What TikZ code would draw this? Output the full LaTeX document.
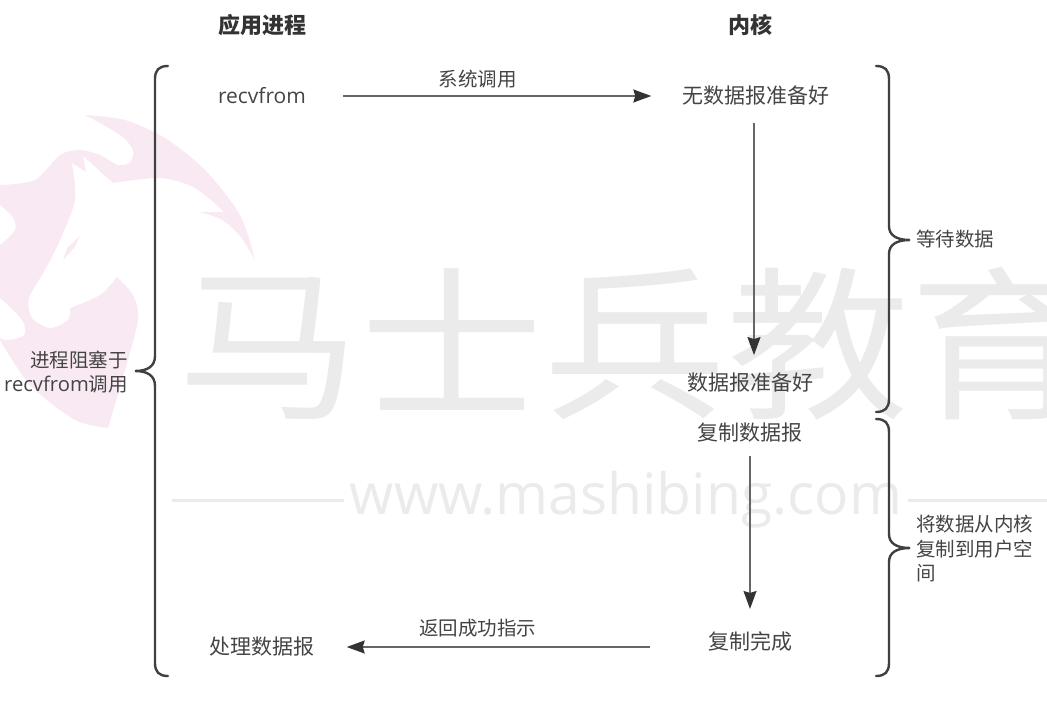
\documentclass[tikz,border=0pt]{standalone}
\usepackage{fontspec}
\usepackage{tikz}
\usetikzlibrary{positioning,arrows.meta}
\setmainfont{Noto Sans CJK SC}
\newfontfamily\latinfont{Open Sans}
\definecolor{markgray}{HTML}{EBEBEB}
\definecolor{markpink}{HTML}{F9E9F3}
\definecolor{inkgray}{HTML}{444444}
\tikzset{
  bigtext/.style={text=inkgray,inner sep=0pt,font=\fontsize{21}{25}\selectfont},
  smalltext/.style={text=inkgray,inner sep=0pt,align=left,font=\fontsize{19.5}{24.5}\selectfont},
  headtext/.style={text=black!80,inner sep=0pt,font=\fontsize{22}{26}\selectfont\bfseries},
  marktext/.style={text=markgray,inner sep=0pt,anchor=base,yscale=.9,transform shape,font=\fontsize{183}{183}\selectfont},
  flow/.style={draw=black!60,line width=1.6pt,-{Stealth[length=18pt,width=13pt,inset=2pt,color=black!80]}},
  curly/.style={draw=black!75,line width=2.4pt,line cap=round}
}
\begin{document}
\begin{tikzpicture}[x=1pt,y=-1pt]
            \useasboundingbox (0,0) rectangle (1047,701);
            \begin{scope}
            \clip (0,0) rectangle (1047,701);
            % logo
            \fill[markpink] plot[smooth] coordinates {(85,115) (125,120) (165,138) (205,170) (240,215) (255,260)}
                -- plot[smooth] coordinates {(255,260) (240,236) (222,220) (200,212)}
                -- (224,212)
                -- plot[smooth] coordinates {(224,212) (195,188) (160,178) (113,183)}
                -- (83,156) -- (86,172) -- (72,163)
                -- plot[smooth] coordinates {(72,163) (75,200) (60,240) (45,270) (29,298) (32,318) (50,328) (68,320) (70,308)}
                -- plot[smooth] coordinates {(70,308) (100,295) (117,277)}
                -- plot[smooth] coordinates {(117,277) (133,295) (138,320) (125,370) (108,428)}
                -- plot[smooth] coordinates {(108,428) (75,420) (30,385) (0,340)}
                -- (0,185)
                -- plot[smooth] coordinates {(0,185) (35,180) (60,155) (80,150) (100,155) (118,165) (130,162) (133,150) (120,135) (85,115)}
                -- cycle;
            \fill[white] plot[smooth] coordinates {(0,205) (13,218) (15,230) (0,245)} -- cycle;
            \fill[white] plot[smooth] coordinates {(0,298) (22,320) (24,335) (8,340) (0,338)} -- cycle;
            \fill[markpink] (80,236) -- (75,247) -- (63,260) -- (67,248) -- cycle;
            % watermark
            \foreach \name/\glyph/\px in {ma/马/269,shi/士/452,bing/兵/635,jiao/教/818,yu/育/1001}
                \node[marktext](\name) at (\px,406){\glyph};
            \node[text=markgray,inner sep=0pt,font=\fontsize{57}{57}\latinfont\selectfont](markurl) at (626,500){www.mashibing.com};
            \draw[markgray,line width=3pt] (markurl.west) ++(-6,0) -- ++(-172,0);
            \draw[markgray,line width=3pt] (markurl.east) ++(6,0) -- ++(172,0);
            \end{scope}
            % columns
            \node[headtext](app) at (262,25){应用进程};
            \node[headtext](kernel) at (750,25){内核};
            \node[bigtext](recv) at (262,96){\latinfont recvfrom};
            \node[bigtext](nodata) at (756,96){无数据报准备好};
            \node[bigtext](ready) at (750,383){数据报准备好};
            \node[bigtext](copying) at (750,433){复制数据报};
            \node[bigtext](done) at (750,641){复制完成};
            \node[bigtext](handle) at (262,647){处理数据报};
            % labels on the right and left
            \node[smalltext,anchor=west](waitdata) at (916,239){等待数据};
            \node[smalltext,anchor=west](copydata) at (916,549){将数据从内核\\复制到用户空\\间};
            \node[smalltext,anchor=east,align=right](blocked) at (128,372){进程阻塞于\\{\latinfont\fontsize{20.2}{24.5}\selectfont recvfrom}调用};
            % arrows
            \draw[flow,shorten <=37pt,shorten >=31pt] (recv) -- node[smalltext,above=7pt,pos=.456]{系统调用} (recv -| nodata.west);
            \draw[flow] (nodata.south -| 754,0) ++(0,17) -- ([yshift=18pt]ready.north -| 754,0);
            \draw[flow,shorten <=13pt,shorten >=22pt] (copying.south) -- (done.north);
            \draw[flow,shorten <=58pt,shorten >=32pt] (done.west |- handle) -- node[smalltext,above=9pt,pos=.585]{返回成功指示} (handle.east);
            % braces
            \draw[curly] (168,66) .. controls (159,66) and (155,70) .. (155,79) -- (155,356) .. controls (155,366) and (148,371) .. (135,371) .. controls (148,371) and (155,376) .. (155,386) -- (155,663) .. controls (155,672) and (159,676) .. (168,676);
            \draw[curly] (876,66) .. controls (885,66) and (889,70) .. (889,79) -- (889,226) .. controls (889,235) and (896,240) .. (910,240) .. controls (896,240) and (889,245) .. (889,254) -- (889,399) .. controls (889,408) and (885,412) .. (876,412);
            \draw[curly] (876,419) .. controls (885,419) and (889,423) .. (889,432) -- (889,534) .. controls (889,543) and (896,548) .. (910,548) .. controls (896,548) and (889,553) .. (889,562) -- (889,663) .. controls (889,672) and (885,676) .. (876,676);
        \end{tikzpicture}
\end{document}
